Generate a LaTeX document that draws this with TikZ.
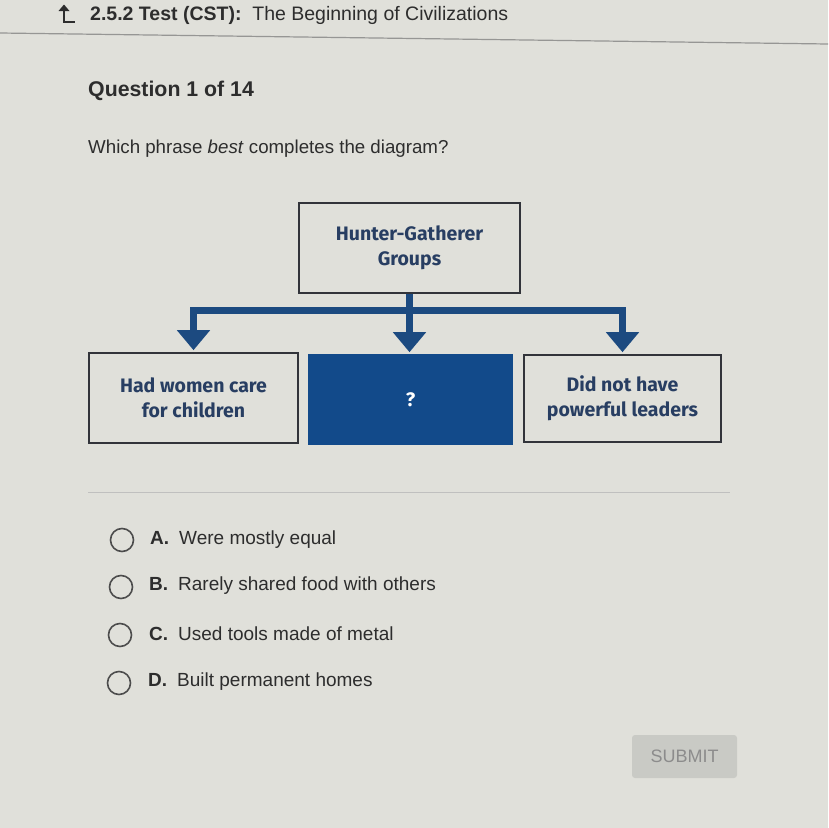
\documentclass[tikz,border=0pt]{standalone}
\usepackage{fontspec}
\setmainfont{Liberation Sans}
\newfontfamily\diagfont{Fira Sans}
\usetikzlibrary{arrows.meta}
\definecolor{bg}{RGB}{224,224,218}
\definecolor{ink}{RGB}{45,45,45}
\definecolor{navy}{RGB}{40,62,98}
\definecolor{fillblue}{RGB}{18,74,138}
\definecolor{arrowblue}{RGB}{28,74,128}
\definecolor{boxline}{RGB}{50,52,58}
\definecolor{rule}{RGB}{150,150,148}
\definecolor{btnfill}{RGB}{201,202,197}
\definecolor{btntext}{RGB}{140,140,140}
\tikzset{
  uitext/.style={inner sep=0pt, text=ink, font=\fontsize{18.7}{20}\selectfont},
  box/.style={draw=boxline, line width=1.6pt, inner sep=0pt, align=center,
    text=navy, font=\diagfont\bfseries\fontsize{19.5}{25}\selectfont},
  conn/.style={draw=arrowblue, line width=7pt, line join=miter,
    -{Triangle[width=32pt,length=20pt]}, shorten >=2pt},
  radio/.style={circle, draw=ink!85, line width=1.6pt, minimum size=23pt, inner sep=0pt},
  opt/.style={inner sep=0pt, anchor=west, text=ink, font=\fontsize{19}{20}\selectfont},
}
\begin{document}
\begin{tikzpicture}[x=1pt,y=-1pt]
\fill[bg] (0,0) rectangle (828,828);
\useasboundingbox (0,0) rectangle (828,828);
% header
\draw[ink, line width=2pt] (64,22) -- (64,7);
\fill[ink] (58.5,11) -- (64,4.5) -- (69.5,11) -- cycle;
\draw[ink, line width=2pt] (63,21.5) -- (75,21.5);
\node[uitext, anchor=west, font=\fontsize{19.5}{20}\selectfont] (hdr) at (90,15)
  {\textbf{2.5.2 Test (CST):}\ \ The Beginning of Civilizations};
\draw[rule, line width=1.2pt] (0,33) -- (828,44);
% question
\node[uitext, anchor=west, font=\bfseries\fontsize{21.3}{22}\selectfont] (q) at (88,91) {Question 1 of 14};
\node[uitext, anchor=west] (w) at (88,149) {Which phrase \textit{best} completes the diagram?};
% diagram
\node[box, minimum width=221pt, minimum height=90pt] (top) at (409.5,248)
  {Hunter-Gatherer\\Groups};
\node[box, minimum width=209pt, minimum height=90pt] (left) at (193.5,398)
  {Had women care\\for children};
\node[box, draw=fillblue, fill=fillblue, text=white, minimum width=203pt, minimum height=89pt] (mid) at (410.5,399.5) {?};
\node[box, minimum width=197pt, minimum height=87pt] (right) at (622.5,398.5)
  {Did not have\\powerful leaders};
\coordinate (j) at (409.5,310);
\draw[conn] (top.south) -- (top.south |- mid.north);
\draw[conn] (j) -| (left.north);
\draw[conn] (j) -| (right.north);
% divider
\draw[rule!60, line width=0.8pt] (88,492) -- (730,492);
% options
\node[radio] (ra) at (122,540) {};
\node[radio] (rb) at (121,587) {};
\node[radio] (rc) at (120,635) {};
\node[radio] (rd) at (119,683) {};
\node[opt] (la) at (150,540) {\textbf{A.}\hspace{10pt}Were mostly equal};
\node[opt] (lb) at (149,586) {\textbf{B.}\hspace{10pt}Rarely shared food with others};
\node[opt] (lc) at (149,634) {\textbf{C.}\hspace{10pt}Used tools made of metal};
\node[opt] (ld) at (148,682) {\textbf{D.}\hspace{10pt}Built permanent homes};
% submit
\node[fill=btnfill, rounded corners=3pt, minimum width=105pt, minimum height=43pt,
  inner sep=0pt, text=btntext, font=\fontsize{18}{20}\selectfont] (sub) at (684.5,756.5) {SUBMIT};
\end{tikzpicture}
\end{document}
